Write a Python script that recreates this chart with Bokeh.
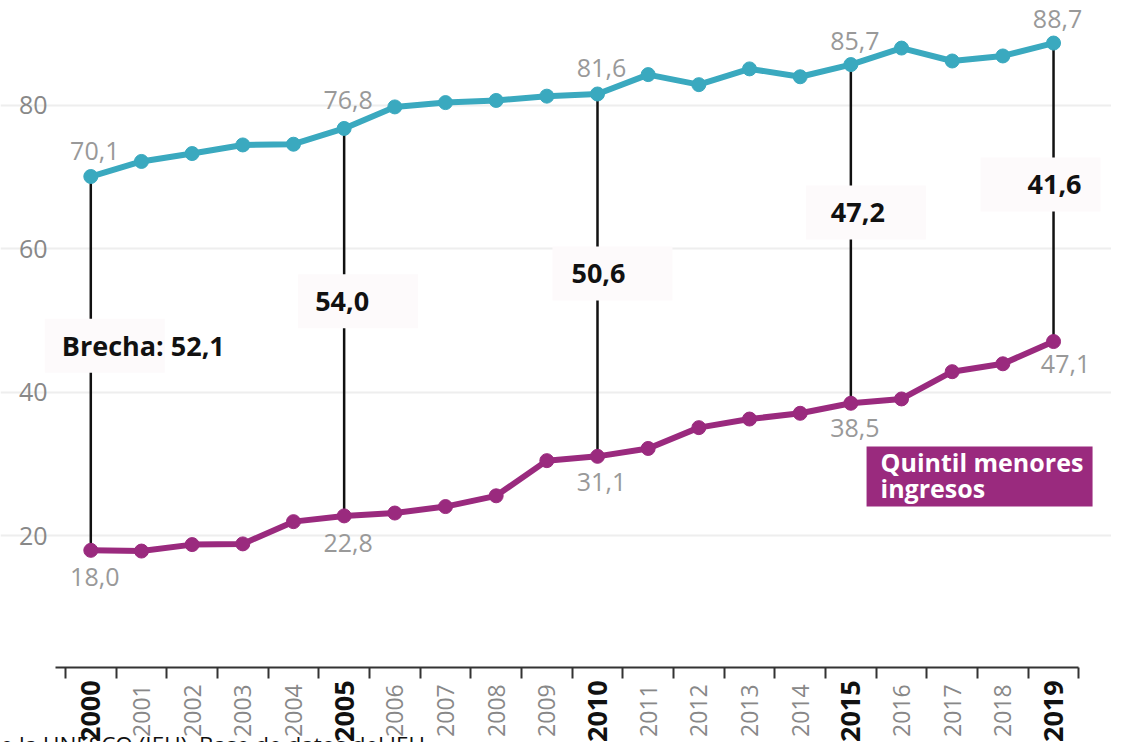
import math
from bokeh.plotting import figure
from bokeh.models import ColumnDataSource, FixedTicker, Range1d
from bokeh.core.properties import value
from bokeh.embed import file_html
from bokeh.resources import INLINE

# ---------------- data ----------------
years = list(range(2000, 2020))
top_quintile = [70.1, 72.2, 73.3, 74.5, 74.6, 76.8, 79.8, 80.4, 80.7, 81.3,
                81.6, 84.3, 82.9, 85.1, 84.0, 85.7, 88.0, 86.2, 86.9, 88.7]
bottom_quintile = [18.0, 17.9, 18.8, 18.9, 22.0, 22.8, 23.2, 24.1, 25.6, 30.5,
                   31.1, 32.2, 35.1, 36.3, 37.1, 38.5, 39.1, 42.9, 44.0, 47.1]
highlight_years = [2000, 2005, 2010, 2015, 2019]
top_labels = ["70,1", "76,8", "81,6", "85,7", "88,7"]
bottom_labels = ["18,0", "22,8", "31,1", "38,5", "47,1"]
gap_texts = ["Brecha: 52,1", "54,0", "50,6", "47,2", "41,6"]
y_ticks = [20, 40, 60, 80]
legend_lines = ["Quintil menores", "ingresos"]
source_text = "e la UNESCO (IEU). Base de datos del IEU"

# annotation positions (data units) and pixel offsets
gap_label_y = [46.5, 52.7, 56.6, 65.1, 69.0]
gap_box_dx = [14, 14, 15, 15, -13]
gap_text_dx = [-2, 1, 7, 1]
legend_anchor = (2015.31, 28.3)
axis_y = 1.67
axis_x = 1999.303
year_label_y = -0.25
source_y = -6.9

TEAL = "#3aa9bf"
PURPLE = "#9a2a7e"
FONT = "Open Sans"

W, H = 1111, 742
X0, X1 = 1998.218, 2020.144
Y0, Y1 = -8.78, 94.63
px_per_year = W / (X1 - X0)

p = figure(width=W, height=H, output_backend="svg", toolbar_location=None,
           x_range=Range1d(X0, X1), y_range=Range1d(Y0, Y1), title=None,
           min_border_left=0, min_border_right=0, min_border_top=0,
           min_border_bottom=0)
p.outline_line_color = None
p.background_fill_color = "white"
p.border_fill_color = "white"

# x axis: only boundary ticks (minor ticks), placed at the bottom of the data area
bounds = [y - 0.5 for y in years] + [years[-1] + 0.5]
xa = p.xaxis[0]
xa.fixed_location = axis_y
xa.ticker = FixedTicker(ticks=[], minor_ticks=bounds)
xa.bounds = (axis_x, years[-1] + 0.5)
xa.axis_line_color = "#333333"
xa.axis_line_width = 2
xa.major_tick_line_color = None
xa.minor_tick_line_color = "#333333"
xa.minor_tick_line_width = 2
xa.minor_tick_in = 0
xa.minor_tick_out = 11

ya = p.yaxis[0]
ya.fixed_location = axis_x + 10 / px_per_year
ya.ticker = FixedTicker(ticks=y_ticks)
ya.axis_line_color = None
ya.major_tick_line_color = None
ya.major_tick_out = 0
ya.major_tick_in = 0
ya.minor_tick_line_color = None
ya.minor_tick_out = 0
ya.major_label_text_color = "#888888"
ya.major_label_text_font = FONT
ya.major_label_text_font_size = "25px"
ya.major_label_standoff = 18

p.xgrid.visible = False
p.ygrid.ticker = FixedTicker(ticks=y_ticks)
p.ygrid.grid_line_color = "#eeeeee"
p.ygrid.grid_line_width = 2

# gap segments
idx = [years.index(y) for y in highlight_years]
gap_src = ColumnDataSource(dict(
    x=highlight_years,
    top=[top_quintile[i] for i in idx],
    bot=[bottom_quintile[i] for i in idx],
))
p.segment(x0="x", y0="top", x1="x", y1="bot", source=gap_src,
          line_color="#111111", line_width=2.5)

box_x = [y + d / px_per_year for y, d in zip(highlight_years, gap_box_dx)]
p.rect(x=box_x, y=gap_label_y, width=120, height=54, width_units="screen",
       height_units="screen", fill_color="#fdfafb", line_color=None)

p.text(x=highlight_years[:1], y=gap_label_y[:1], text=gap_texts[:1],
       text_font=value(FONT), text_font_style="bold", text_font_size="27px",
       text_color="#111111", text_align="left", text_baseline="middle",
       x_offset=-29)
p.text(x=highlight_years[1:], y=gap_label_y[1:], text=gap_texts[1:],
       text_font=value(FONT), text_font_style="bold", text_font_size="27px",
       text_color="#111111", text_align="center", text_baseline="middle",
       x_offset=gap_text_dx)

# series
p.line(years, top_quintile, line_color=TEAL, line_width=6)
p.scatter(years, top_quintile, size=14, fill_color=TEAL, line_color=TEAL)
p.line(years, bottom_quintile, line_color=PURPLE, line_width=6)
p.scatter(years, bottom_quintile, size=14, fill_color=PURPLE, line_color=PURPLE)

# value labels
p.text(x=highlight_years, y=[top_quintile[i] for i in idx], text=top_labels,
       text_font=value(FONT), text_font_size="25px", text_color="#999999",
       text_align="center", text_baseline="middle", x_offset=4,
       y_offset=[-26, -28, -26, -24, -24])
p.text(x=highlight_years, y=[bottom_quintile[i] for i in idx], text=bottom_labels,
       text_font=value(FONT), text_font_size="25px", text_color="#999999",
       text_align="center", text_baseline="middle",
       x_offset=[4, 4, 4, 4, 12], y_offset=[27, 27, 26, 25, 22])

# legend box
lx, ly = legend_anchor
p.rect(x=[lx + 113 / px_per_year], y=[ly], width=226, height=60,
       width_units="screen", height_units="screen",
       fill_color=PURPLE, line_color=None)
p.text(x=[lx, lx], y=[ly, ly], text=legend_lines,
       text_font=value(FONT), text_font_style="bold", text_font_size="25px",
       text_color="white", text_align="left", text_baseline="middle",
       x_offset=14, y_offset=[-14, 12])

# year labels (rotated, below axis)
normal = [y for y in years if y not in highlight_years]
p.text(x=normal, y=[year_label_y] * len(normal), text=[str(y) for y in normal],
       angle=math.pi / 2, text_font=value(FONT), text_font_size="23px",
       text_color="#888888", text_align="right", text_baseline="middle",
       y_offset=3)
p.text(x=highlight_years, y=[year_label_y] * len(highlight_years),
       text=[str(y) for y in highlight_years], angle=math.pi / 2,
       text_font=value(FONT), text_font_size="27px", text_font_style="bold",
       text_color="#111111", text_align="right", text_baseline="middle",
       y_offset=-1)

# source line (cut by the bottom edge, as in the reference)
p.text(x=[X0], y=[source_y], text=[source_text], text_font=value(FONT),
       text_font_size="22.5px", text_color="#111111", text_align="left",
       text_baseline="top")

open("out.html", "w").write(file_html(p, INLINE))
